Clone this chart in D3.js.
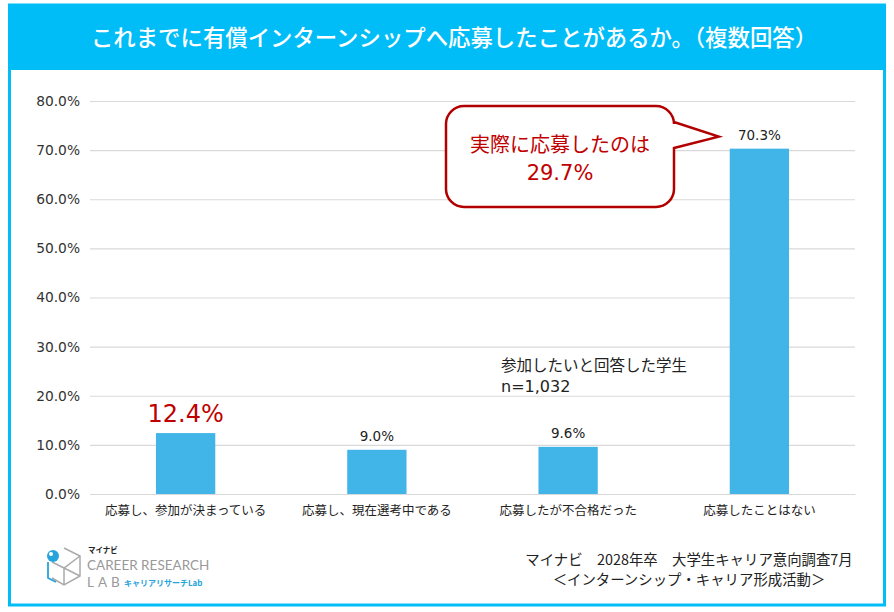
<!DOCTYPE html>
<html>
<head>
<meta charset="utf-8">
<script src="https://cdn.jsdelivr.net/npm/d3@7"></script>
<style>
  body { margin: 0; background: #fff; }
  svg { display: block; font-family: "Noto Sans CJK JP", "Noto Sans", sans-serif; }
</style>
</head>
<body>
<div id="chart"></div>
<script>
// Data.
const categories = [ '応募し、参加が決まっている', '応募し、現在選考中である', '応募したが不合格だった', '応募したことはない' ];
const values = [ 12.4, 9.0, 9.6, 70.3 ];
const y_ticks = [ 0, 10, 20, 30, 40, 50, 60, 70, 80 ];
const title_text = 'これまでに有償インターンシップへ応募したことがあるか。（複数回答）';
const callout_lines = [ '実際に応募したのは', '29.7%' ];
const note_lines = [ '参加したいと回答した学生', 'n=1,032' ];
const source_lines = [ 'マイナビ　2028年卒　大学生キャリア意向調査7月', '＜インターンシップ・キャリア形成活動＞' ];

const W = 894, H = 612;
const margin = { top: 101, right: 39, bottom: 118, left: 90 };
const plot_width = W - margin.left - margin.right;
const plot_height = H - margin.top - margin.bottom;
const blue = '#00bdf8';
const bar_color = '#41b5e8';
const red = '#c00000';

const svg = d3.select( '#chart' ).append( 'svg' )
  .attr( 'width', W )
  .attr( 'height', H );

// Frame and title band.
svg.append( 'rect' )
  .attr( 'x', 9.5 ).attr( 'y', 5 )
  .attr( 'width', 875 ).attr( 'height', 600 )
  .attr( 'fill', '#fff' )
  .attr( 'stroke', blue ).attr( 'stroke-width', 3 );
svg.append( 'rect' )
  .attr( 'x', 8 ).attr( 'y', 4 )
  .attr( 'width', 878 ).attr( 'height', 66 )
  .attr( 'fill', blue );
svg.append( 'text' )
  .attr( 'x', 454 ).attr( 'y', 46 )
  .attr( 'text-anchor', 'middle' )
  .attr( 'fill', '#fff' )
  .attr( 'font-weight', 500 )
  .style( 'font-size', '22.4px' )
  .text( title_text );

const g = svg.append( 'g' )
  .attr( 'transform', 'translate(' + margin.left + ',' + margin.top + ')' );

const x_scale = d3.scaleBand()
  .domain( categories )
  .range( [ 0, plot_width ] )
  .paddingInner( 0.69 )
  .paddingOuter( 0.345 );

const y_scale = d3.scaleLinear()
  .domain( [ 0, 80 ] )
  .range( [ plot_height, 0 ] );

// Gridlines and y tick labels.
const y_axis = g.append( 'g' )
  .call( d3.axisLeft( y_scale ).tickValues( y_ticks ).tickSize( -plot_width ).tickPadding( 10 )
    .tickFormat( function( d ){ return d.toFixed( 1 ) + '%'; } ) );
y_axis.select( '.domain' ).remove();
y_axis.selectAll( '.tick line' ).attr( 'stroke', '#d9d9d9' ).attr( 'stroke-width', 1.2 );
y_axis.selectAll( '.tick text' )
  .attr( 'fill', '#333' )
  .style( 'font-family', '"DejaVu Sans", sans-serif' )
  .style( 'font-size', '13.8px' );

// Bars.
g.append( 'g' )
  .selectAll( 'rect' )
  .data( values )
  .enter().append( 'rect' )
    .attr( 'x', function( d, i ){ return x_scale( categories[i] ); } )
    .attr( 'y', function( d ){ return y_scale( d ); } )
    .attr( 'width', x_scale.bandwidth() )
    .attr( 'height', function( d ){ return plot_height - y_scale( d ); } )
    .attr( 'fill', bar_color );

// Category labels.
const x_axis = g.append( 'g' )
  .attr( 'transform', 'translate(0,' + plot_height + ')' )
  .call( d3.axisBottom( x_scale ).tickSize( 0 ).tickPadding( 12 ) );
x_axis.select( '.domain' ).attr( 'stroke', '#d9d9d9' ).attr( 'stroke-width', 1.2 );
x_axis.selectAll( '.tick text' )
  .attr( 'fill', '#222' )
  .style( 'font-size', '12.5px' )
  .style( 'font-family', '"Noto Sans CJK JP", sans-serif' );

// Value labels; the first one is highlighted in red.
g.append( 'g' )
  .selectAll( 'text' )
  .data( values )
  .enter().append( 'text' )
    .attr( 'x', function( d, i ){ return x_scale( categories[i] ) + x_scale.bandwidth() / 2; } )
    .attr( 'y', function( d, i ){ return y_scale( d ) - ( i === 0 ? 11 : 9 ); } )
    .attr( 'text-anchor', 'middle' )
    .attr( 'fill', function( d, i ){ return i === 0 ? red : '#222'; } )
    .style( 'font-size', function( d, i ){ return i === 0 ? '24px' : '13.5px'; } )
    .style( 'font-family', '"DejaVu Sans", sans-serif' )
    .text( function( d ){ return d.toFixed( 1 ) + '%'; } );

// Callout bubble pointing at the last bar.
const bx = 446, by = 106, bw = 228, bh = 101, r = 18;
const tip_x = x_scale( categories[3] ) + margin.left - 11;
const tip_y = y_scale( 70.3 ) + margin.top - 12;
const bubble = d3.path();
bubble.moveTo( bx + r, by );
bubble.lineTo( bx + bw - r, by );
bubble.arcTo( bx + bw, by, bx + bw, by + r, r );
bubble.lineTo( bx + bw, by + 16 );
bubble.lineTo( tip_x, tip_y );
bubble.lineTo( bx + bw, by + 42 );
bubble.lineTo( bx + bw, by + bh - r );
bubble.arcTo( bx + bw, by + bh, bx + bw - r, by + bh, r );
bubble.lineTo( bx + r, by + bh );
bubble.arcTo( bx, by + bh, bx, by + bh - r, r );
bubble.lineTo( bx, by + r );
bubble.arcTo( bx, by, bx + r, by, r );
bubble.closePath();
svg.append( 'path' )
  .attr( 'd', bubble.toString() )
  .attr( 'fill', '#fff' )
  .attr( 'stroke', '#b20000' )
  .attr( 'stroke-width', 2.5 );
svg.append( 'g' )
  .selectAll( 'text' )
  .data( callout_lines )
  .enter().append( 'text' )
    .attr( 'x', 560 )
    .attr( 'y', function( d, i ){ return 152 + i * 28; } )
    .attr( 'text-anchor', 'middle' )
    .attr( 'fill', red )
    .style( 'font-size', function( d, i ){ return i === 0 ? '20px' : '21px'; } )
    .style( 'font-family', function( d, i ){ return i === 0 ? null : '"DejaVu Sans", sans-serif'; } )
    .text( function( d ){ return d; } );

// Sample note.
svg.append( 'g' )
  .selectAll( 'text' )
  .data( note_lines )
  .enter().append( 'text' )
    .attr( 'x', 501 )
    .attr( 'y', function( d, i ){ return 371 + i * 21; } )
    .attr( 'fill', '#222' )
    .style( 'font-size', function( d, i ){ return i === 0 ? '15.5px' : '16px'; } )
    .style( 'font-family', function( d, i ){ return i === 0 ? null : '"DejaVu Sans", sans-serif'; } )
    .text( function( d ){ return d; } );

// Source note.
svg.append( 'g' )
  .selectAll( 'text' )
  .data( source_lines )
  .enter().append( 'text' )
    .attr( 'x', 689 )
    .attr( 'y', function( d, i ){ return 565 + i * 20; } )
    .attr( 'text-anchor', 'middle' )
    .attr( 'fill', '#222' )
    .style( 'font-size', '14.4px' )
    .text( function( d ){ return d; } );

// Logo.
const logo = svg.append( 'g' ).attr( 'transform', 'translate(46,548)' );
logo.append( 'path' )
  .attr( 'd', 'M18,0 L34,8 L34,28 L18,37 L6,30 M6,14 L18,20 L34,8 M18,20 L18,37 M18,20 L34,28' )
  .attr( 'fill', 'none' )
  .attr( 'stroke', '#aaa' )
  .attr( 'stroke-width', 1.5 );
logo.append( 'path' )
  .attr( 'd', 'M2,14 L2,30 L10,34' )
  .attr( 'fill', 'none' )
  .attr( 'stroke', '#27a4dc' )
  .attr( 'stroke-width', 1.8 );
logo.append( 'circle' )
  .attr( 'cx', 7 ).attr( 'cy', 8 ).attr( 'r', 6 )
  .attr( 'fill', '#27a4dc' );
logo.append( 'circle' )
  .attr( 'cx', 5 ).attr( 'cy', 6 ).attr( 'r', 2 )
  .attr( 'fill', '#fff' );
logo.append( 'text' )
  .attr( 'x', 42 ).attr( 'y', 5 )
  .attr( 'fill', '#222' )
  .attr( 'font-weight', 'bold' )
  .style( 'font-size', '7.5px' )
  .text( 'マイナビ' );
logo.append( 'text' )
  .attr( 'x', 41 ).attr( 'y', 22 )
  .attr( 'fill', '#999' )
  .style( 'font-family', '"Lato", sans-serif' )
  .style( 'font-size', '13.5px' )
  .text( 'CAREER RESEARCH' );
logo.append( 'text' )
  .attr( 'x', 41 ).attr( 'y', 39 )
  .attr( 'fill', '#999' )
  .attr( 'letter-spacing', 4 )
  .style( 'font-family', '"Lato", sans-serif' )
  .style( 'font-size', '13.5px' )
  .text( 'LAB' );
logo.append( 'text' )
  .attr( 'x', 78 ).attr( 'y', 38 )
  .attr( 'fill', '#27a4dc' )
  .attr( 'font-weight', 'bold' )
  .style( 'font-size', '8px' )
  .text( 'キャリアリサーチLab' );
</script>
</body>
</html>
